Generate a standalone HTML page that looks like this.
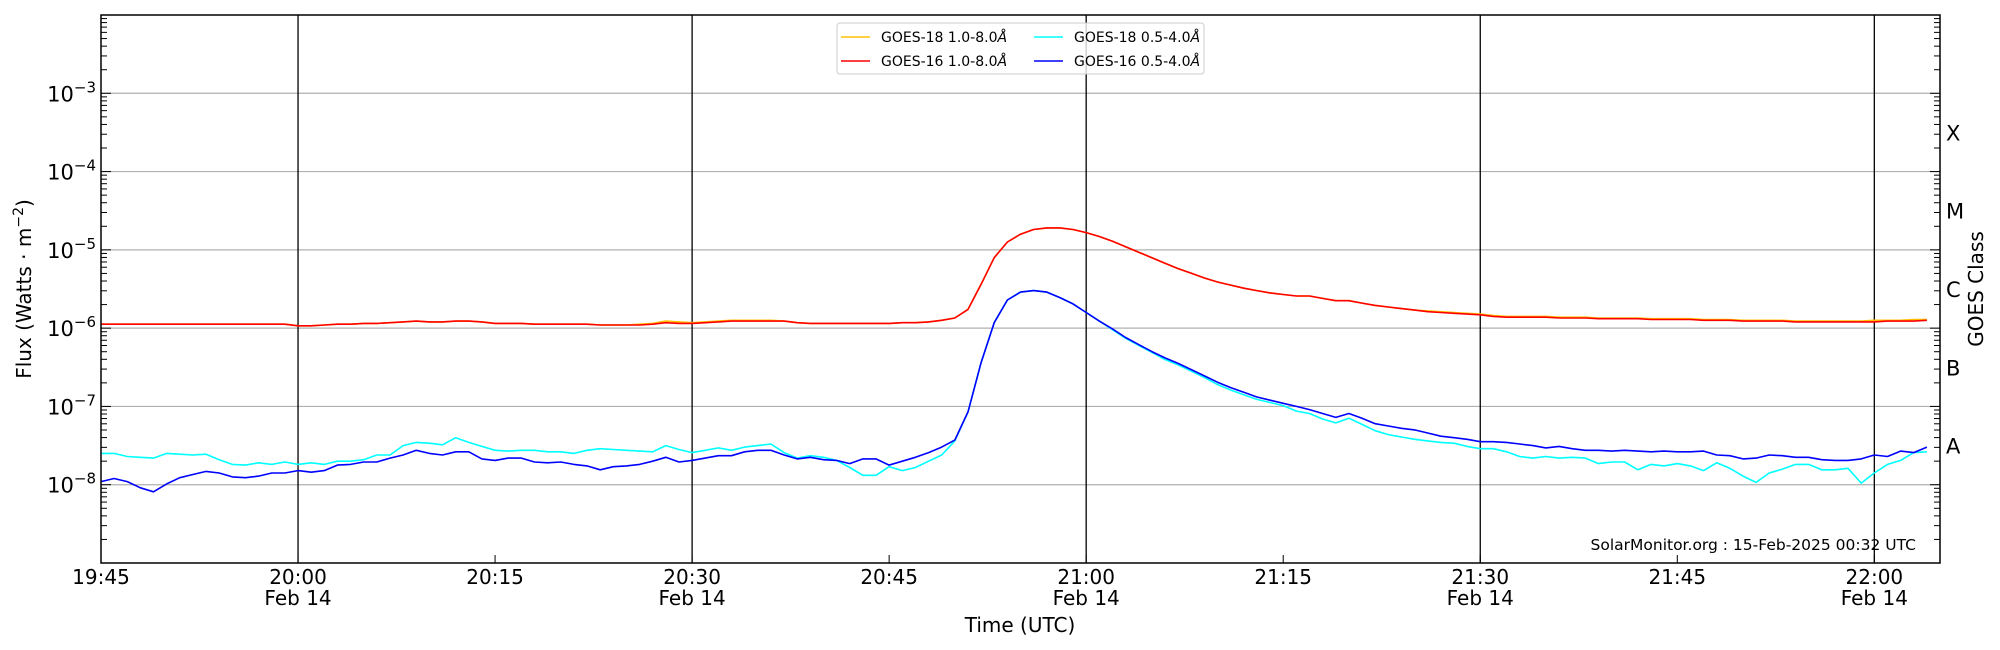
<!DOCTYPE html>
<html><head><meta charset="utf-8"><style>
html,body{margin:0;padding:0;background:#fff;}
svg{display:block;font-family:"DejaVu Sans","Liberation Sans",sans-serif;}
</style></head><body>
<svg id="chart" width="2000" height="650" viewBox="0 0 2000 650" xmlns="http://www.w3.org/2000/svg">
<rect width="2000" height="650" fill="#fff"/>
<g id="grid"></g><g id="series"></g><g id="axes"></g>
</svg>
<script>
// ---- data (minute cadence from 19:45 UTC), values are log10(flux W/m^2) ----
const startMinute = 0;
const g16LongLog = [-5.95,-5.95,-5.95,-5.95,-5.95,-5.95,-5.95,-5.95,-5.95,-5.95,-5.95,-5.95,-5.95,-5.95,-5.95,
-5.97,-5.97,-5.96,-5.95,-5.95,-5.94,-5.94,-5.93,-5.92,-5.91,-5.92,-5.92,-5.91,-5.91,-5.92,-5.94,-5.94,-5.94,-5.95,-5.95,-5.95,-5.95,-5.95,-5.96,-5.96,-5.96,-5.96,-5.95,-5.93,-5.94,-5.94,
-5.93,-5.92,-5.91,-5.91,-5.91,-5.91,-5.91,-5.93,-5.94,-5.94,-5.94,-5.94,-5.94,-5.94,-5.94,-5.93,-5.93,-5.92,-5.90,-5.87,
-5.76,-5.44,-5.10,-4.90,-4.80,-4.74,-4.72,-4.72,-4.74,-4.78,-4.83,-4.89,-4.96,-5.03,-5.10,-5.17,-5.24,-5.30,-5.36,-5.41,-5.45,-5.49,-5.52,-5.55,-5.57,-5.59,
-5.59,-5.62,-5.65,-5.65,-5.68,-5.71,-5.73,-5.75,-5.77,-5.79,-5.80,-5.81,-5.82,-5.83,-5.85,-5.86,-5.86,-5.86,-5.86,-5.87,-5.87,-5.87,-5.88,-5.88,-5.88,-5.88,-5.89,-5.89,-5.89,-5.89,-5.90,-5.90,-5.90,-5.91,-5.91,-5.91,-5.91,-5.92,-5.92,-5.92,-5.92,-5.92,-5.92,-5.92,-5.91,-5.91,-5.91,-5.90];
const g18LongLog = [-5.95,-5.95,-5.95,-5.95,-5.95,-5.95,-5.95,-5.95,-5.95,-5.95,-5.95,-5.95,-5.95,-5.95,-5.95,
-5.97,-5.97,-5.96,-5.95,-5.95,-5.94,-5.94,-5.93,-5.92,-5.91,-5.92,-5.92,-5.91,-5.91,-5.92,-5.94,-5.94,-5.94,-5.95,-5.95,-5.95,-5.95,-5.95,-5.96,-5.96,-5.96,-5.95,-5.94,-5.91,-5.92,-5.93,
-5.92,-5.91,-5.90,-5.90,-5.90,-5.90,-5.91,-5.93,-5.94,-5.94,-5.94,-5.94,-5.94,-5.94,-5.94,-5.93,-5.93,-5.92,-5.90,-5.87,
-5.76,-5.44,-5.10,-4.90,-4.80,-4.74,-4.72,-4.72,-4.74,-4.78,-4.83,-4.89,-4.96,-5.03,-5.10,-5.17,-5.24,-5.30,-5.36,-5.41,-5.45,-5.49,-5.52,-5.55,-5.57,-5.59,
-5.59,-5.62,-5.65,-5.65,-5.68,-5.71,-5.73,-5.75,-5.77,-5.78,-5.79,-5.80,-5.81,-5.82,-5.84,-5.85,-5.85,-5.85,-5.85,-5.86,-5.86,-5.86,-5.87,-5.87,-5.87,-5.87,-5.88,-5.88,-5.88,-5.88,-5.89,-5.89,-5.89,-5.90,-5.90,-5.90,-5.90,-5.91,-5.91,-5.91,-5.91,-5.91,-5.91,-5.90,-5.90,-5.90,-5.89,-5.89];
const g18ShortLog = [-7.60,-7.60,-7.64,-7.65,-7.66,-7.60,-7.61,-7.62,-7.61,-7.68,-7.74,-7.75,-7.72,-7.74,-7.71,-7.74,-7.72,-7.74,-7.70,-7.70,-7.68,-7.62,-7.62,-7.50,-7.46,-7.47,-7.49,-7.40,-7.46,-7.51,-7.56,-7.57,-7.56,-7.56,-7.58,-7.58,-7.60,-7.56,-7.54,-7.55,-7.56,-7.57,-7.58,-7.50,-7.55,-7.59,
-7.56,-7.53,-7.56,-7.52,-7.50,-7.48,-7.59,-7.66,-7.63,-7.65,-7.69,-7.78,-7.88,-7.88,-7.77,-7.82,-7.78,-7.70,-7.62,-7.44,
-7.07,-6.44,-5.93,-5.64,-5.54,-5.52,-5.54,-5.61,-5.69,-5.80,-5.91,-6.02,-6.13,-6.22,-6.31,-6.40,-6.47,-6.55,-6.63,
-6.72,-6.79,-6.85,-6.91,-6.95,-6.99,-7.06,
-7.09,-7.16,-7.21,-7.15,-7.23,-7.31,-7.36,-7.39,-7.42,-7.44,-7.46,-7.47,-7.51,-7.54,-7.54,-7.58,-7.64,-7.66,-7.64,-7.66,-7.65,-7.66,-7.73,-7.71,-7.71,-7.81,-7.74,-7.76,-7.73,-7.76,-7.82,-7.72,-7.79,-7.89,-7.97,-7.85,-7.80,-7.74,-7.74,-7.81,-7.81,-7.79,-7.98,-7.85,-7.74,-7.69,-7.59,-7.58];
const g16ShortLog = [-7.96,-7.92,-7.96,-8.04,-8.09,-7.99,-7.91,-7.87,-7.83,-7.85,-7.90,-7.91,-7.89,-7.85,-7.85,-7.82,-7.84,-7.82,-7.75,-7.74,-7.71,-7.71,-7.66,-7.62,-7.56,-7.60,-7.62,-7.58,-7.58,-7.67,-7.69,-7.66,-7.66,-7.71,-7.72,-7.71,-7.74,-7.76,-7.81,-7.77,-7.76,-7.74,-7.70,-7.65,-7.71,-7.69,
-7.66,-7.63,-7.63,-7.58,-7.56,-7.56,-7.62,-7.67,-7.65,-7.68,-7.69,-7.73,-7.67,-7.67,-7.75,-7.70,-7.65,-7.59,-7.52,-7.43,-7.07,-6.44,-5.93,-5.64,-5.54,-5.52,-5.54,-5.61,-5.69,-5.80,-5.91,-6.01,-6.12,-6.21,-6.30,-6.38,-6.45,-6.53,-6.61,-6.69,-6.76,-6.82,-6.88,-6.92,-6.96,-7.00,
-7.04,-7.09,-7.14,-7.09,-7.15,-7.22,-7.25,-7.28,-7.30,-7.34,-7.38,-7.40,-7.42,-7.45,-7.45,-7.46,-7.48,-7.50,-7.53,-7.51,-7.54,-7.56,-7.56,-7.57,-7.56,-7.57,-7.58,-7.57,-7.58,-7.58,-7.57,-7.62,-7.63,-7.67,-7.66,-7.62,-7.63,-7.65,-7.65,-7.68,-7.69,-7.69,-7.67,-7.62,-7.64,-7.57,-7.59,-7.52];
const xTickMinutes = [0,15,30,45,60,75,90,105,120,135];
const xTickLabels = ["19:45","20:00","20:15","20:30","20:45","21:00","21:15","21:30","21:45","22:00"];
const xDateMinutes = [15,45,75,105,135];
const yTickExps = [-3,-4,-5,-6,-7,-8];
const classLabels = ["X","M","C","B","A"];
const classLogs = [-3.5,-4.5,-5.5,-6.5,-7.5];

// ---- layout ----
const L=101,R=1940,T=15,B=563, xMin=0,xMax=140.0, yMin=-9,yMax=-2;
const NS="http://www.w3.org/2000/svg";
const xS=m=>L+(m-xMin)/(xMax-xMin)*(R-L);
const yS=v=>B-(v-yMin)/(yMax-yMin)*(B-T);
function mk(tag,attrs,parent){const e=document.createElementNS(NS,tag);for(const k in attrs)e.setAttribute(k,attrs[k]);parent.appendChild(e);return e;}
const grid=document.getElementById('grid'),series=document.getElementById('series'),axes=document.getElementById('axes');

for(let e=-8;e<=-3;e++){
  const g=mk('line',{x1:L,x2:R,y1:yS(e),y2:yS(e),stroke:'#b0b0b0','stroke-width':1.2},grid);
  
  
}
xDateMinutes.forEach(m=>{
  const g=mk('line',{x1:xS(m),x2:xS(m),y1:T,y2:B,stroke:'#000','stroke-width':1.3},grid);
  
  
});

function drawSeries(arr,color,name){
  const pts=arr.map((v,i)=>xS(startMinute+i).toFixed(1)+','+yS(v).toFixed(1)).join(' ');
  const p=mk('polyline',{points:pts,fill:'none',stroke:color,'stroke-width':1.6,'stroke-linejoin':'round'},series);
  
  
}
drawSeries(g18LongLog,'#ffc000','goes18-long-line');
drawSeries(g16LongLog,'#ff0000','goes16-long-line');
drawSeries(g18ShortLog,'#00ffff','goes18-short-line');
drawSeries(g16ShortLog,'#0000ff','goes16-short-line');

// frame
const fr=mk('rect',{x:L,y:T,width:R-L,height:B-T,fill:'none',stroke:'#000','stroke-width':1.5},axes);



// y minor/major ticks both sides
for(let e=-9;e<-2;e++){
  for(let k=1;k<=9;k++){
    const v=e+Math.log10(k); if(v>yMax) continue;
    const len=k===1?10:6;
    mk('line',{x1:L,x2:L+len,y1:yS(v),y2:yS(v),stroke:'#000','stroke-width':1},axes);
    mk('line',{x1:R,x2:R-len,y1:yS(v),y2:yS(v),stroke:'#000','stroke-width':1},axes);
  }
}
yTickExps.forEach(e=>{
  const t=mk('text',{x:96,y:yS(e)+8,'text-anchor':'end','font-size':21,fill:'#000'},axes);
  
  
  t.appendChild(document.createTextNode('10'));
  const s=mk('tspan',{dy:-9,'font-size':15},t); s.textContent='−'+(-e);
});
classLabels.forEach((c,i)=>{
  const t=mk('text',{x:1946,y:yS(classLogs[i])+8,'font-size':21,fill:'#000'},axes);
  
  
  t.textContent=c;
});
xTickMinutes.forEach((m,i)=>{
  mk('line',{x1:xS(m),x2:xS(m),y1:B,y2:B-8,stroke:'#000','stroke-width':1},axes);
  const t=mk('text',{x:xS(m),y:584,'text-anchor':'middle','font-size':20,fill:'#000'},axes);
  
  
  t.textContent=xTickLabels[i];
});
xDateMinutes.forEach(m=>{
  const t=mk('text',{x:xS(m),y:605,'text-anchor':'middle','font-size':20,fill:'#000'},axes);
  
  
  t.textContent='Feb 14';
});
</script>
<svg style="position:absolute;left:0;top:0" width="2000" height="650">
<text x="1020" y="632" text-anchor="middle" font-size="20" font-family="DejaVu Sans, Liberation Sans, sans-serif">Time (UTC)</text>
<text transform="translate(31,289) rotate(-90)" text-anchor="middle" font-size="20" font-family="DejaVu Sans, Liberation Sans, sans-serif">Flux (Watts · m<tspan dy="-8" font-size="14">−2</tspan><tspan dy="8">)</tspan></text>
<text transform="translate(1983,289) rotate(-90)" text-anchor="middle" font-size="20" font-family="DejaVu Sans, Liberation Sans, sans-serif">GOES Class</text>
<text x="1916" y="550" text-anchor="end" font-size="15.5" font-family="DejaVu Sans, Liberation Sans, sans-serif">SolarMonitor.org : 15-Feb-2025 00:32 UTC</text>
<g font-family="DejaVu Sans, Liberation Sans, sans-serif" font-size="14">
<rect x="837" y="23" width="367" height="51" rx="3" fill="#fff" fill-opacity="0.8" stroke="#ccc"/>
<g><line x1="841" x2="870" y1="37" y2="37" stroke="#ffc000" stroke-width="1.6"/><text x="881" y="42">GOES-18 1.0-8.0<tspan font-style="italic">Å</tspan></text></g>
<g><line x1="841" x2="870" y1="61" y2="61" stroke="#ff0000" stroke-width="1.6"/><text x="881" y="66">GOES-16 1.0-8.0<tspan font-style="italic">Å</tspan></text></g>
<g><line x1="1034" x2="1063" y1="37" y2="37" stroke="#00ffff" stroke-width="1.6"/><text x="1074" y="42">GOES-18 0.5-4.0<tspan font-style="italic">Å</tspan></text></g>
<g><line x1="1034" x2="1063" y1="61" y2="61" stroke="#0000ff" stroke-width="1.6"/><text x="1074" y="66">GOES-16 0.5-4.0<tspan font-style="italic">Å</tspan></text></g>
</g>
</svg>
</body></html>
